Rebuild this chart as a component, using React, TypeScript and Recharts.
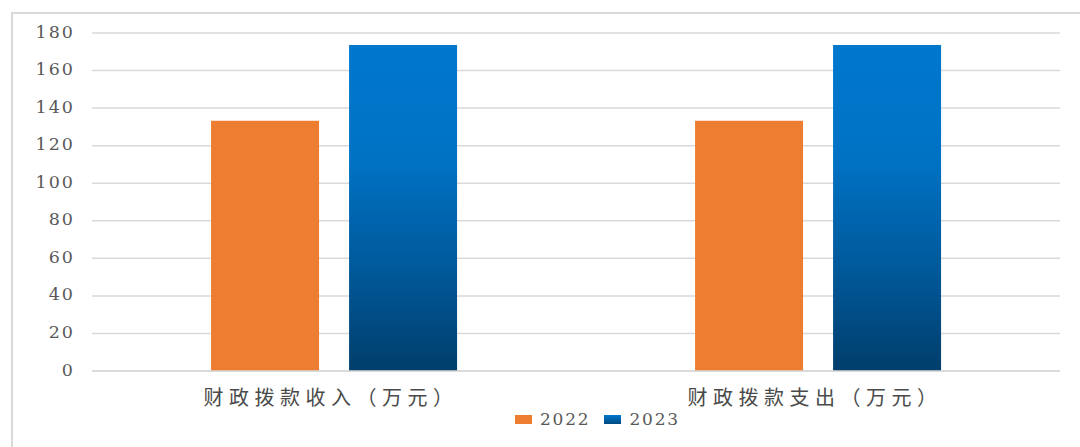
import React from "react";
import { BarChart, Bar, XAxis, YAxis, CartesianGrid } from "recharts";

const categories = ["财政拨款收入（万元）", "财政拨款支出（万元）"];
const values2022 = [133.3, 133.3];
const values2023 = [173.6, 173.6];
const seriesNames = ["2022", "2023"];
const yTicks = [0, 20, 40, 60, 80, 100, 120, 140, 160, 180];

const data = categories.map((c, i) => ({ name: c, v2022: values2022[i], v2023: values2023[i] }));

const SERIF = "'DejaVu Serif', 'Liberation Serif', serif";

const CatTick = (props: any) => {
  const { x, y, payload } = props;
  return (
    <text
      x={x - 3}
      y={y + 21}
      textAnchor="middle"
      dominantBaseline="middle"
      fill="#4a4a4a"
      fontSize={20}
      letterSpacing={5.5}
      fontFamily="'Noto Sans CJK SC', sans-serif"
    >
      {payload.value}
    </text>
  );
};

const NumTick = (props: any) => {
  const { x, y, payload } = props;
  return (
    <text
      x={x}
      y={y}
      textAnchor="end"
      dominantBaseline="middle"
      fill="#595959"
      fontSize={17.5}
      letterSpacing={2}
      fontFamily={SERIF}
    >
      {payload.value}
    </text>
  );
};

export default function App() {
  return (
    <div style={{ position: "absolute", left: 0, top: 0, width: 1080, height: 447, background: "#fff", overflow: "hidden" }}>
      <div
        style={{
          position: "absolute",
          left: 11,
          top: 12,
          width: 1080,
          height: 447,
          borderLeft: "2px solid #d9d9d9",
          borderTop: "2px solid #d9d9d9",
        }}
      />
      <div style={{ position: "absolute", left: 0, top: 0 }}>
        <BarChart
          width={1080}
          height={447}
          data={data}
          margin={{ top: 33, right: 20, bottom: 46, left: 32 }}
          barCategoryGap="24.6%"
          barGap={30}
        >
          <defs>
            <linearGradient id="blueGrad" x1="0" y1="0" x2="0" y2="1">
              <stop offset="0%" stopColor="#0078CE" />
              <stop offset="35%" stopColor="#0072C4" />
              <stop offset="70%" stopColor="#005898" />
              <stop offset="100%" stopColor="#003E6C" />
            </linearGradient>
          </defs>
          <CartesianGrid vertical={false} stroke="#d9d9d9" strokeWidth={1.5} />
          <XAxis
            dataKey="name"
            axisLine={{ stroke: "#d9d9d9", strokeWidth: 1.5 }}
            tickLine={false}
            height={30}
            tick={<CatTick />}
          />
          <YAxis
            domain={[0, 180]}
            ticks={yTicks}
            axisLine={false}
            tickLine={false}
            width={60}
            tickMargin={11}
            tick={<NumTick />}
          />
          <Bar dataKey="v2022" name={seriesNames[0]} fill="#ED7D31" isAnimationActive={false} />
          <Bar dataKey="v2023" name={seriesNames[1]} fill="url(#blueGrad)" isAnimationActive={false} />
        </BarChart>
      </div>
      <div
        style={{
          position: "absolute",
          left: 515,
          top: 409,
          display: "flex",
          alignItems: "center",
          fontFamily: SERIF,
          fontSize: 17,
          letterSpacing: 1.8,
          color: "#595959",
        }}
      >
        {seriesNames.map((n, i) => (
          <div key={n} style={{ display: "flex", alignItems: "center", marginRight: 14 }}>
            <div
              style={{
                width: 17,
                height: 9,
                marginRight: 8,
                background: i === 0 ? "#ED7D31" : "linear-gradient(#0078CE, #004A80)",
              }}
            />
            <span>{n}</span>
          </div>
        ))}
      </div>
    </div>
  );
}
